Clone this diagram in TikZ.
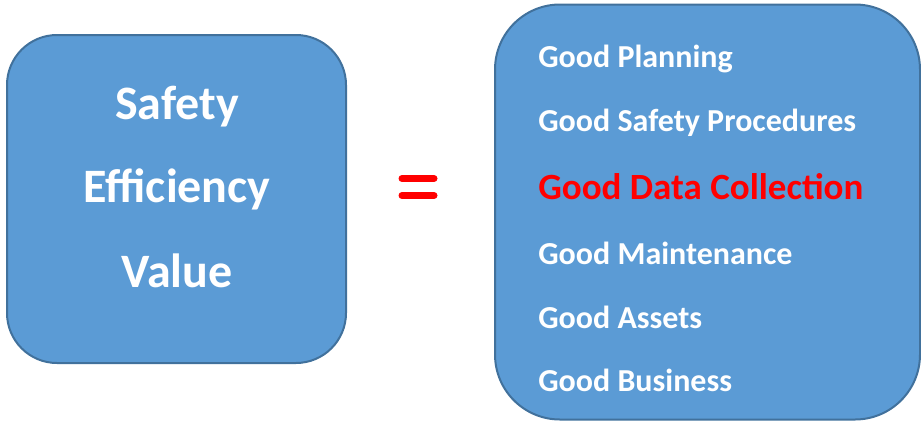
\documentclass[tikz,border=0pt]{standalone}
\usepackage{fontspec}
\setmainfont{Carlito}
\usetikzlibrary{positioning}
\definecolor{boxblue}{HTML}{5B9BD5}
\definecolor{boxline}{HTML}{41719C}

\begin{document}
\begin{tikzpicture}[x=1pt,y=-1pt,semithick]
  \tikzstyle{blockbox}=[rectangle,draw=boxline,fill=boxblue,line width=2pt,inner sep=0pt]
  \tikzstyle{bigtext}=[anchor=base,text=white,font=\bfseries\fontsize{48}{58}\selectfont,inner sep=0pt]
  \tikzstyle{itemtext}=[anchor=base west,text=white,font=\bfseries\fontsize{32}{38}\selectfont,inner sep=0pt]

  \useasboundingbox (0,0) rectangle (921,421);

  \node[blockbox,rounded corners=50pt,minimum width=339pt,minimum height=328pt] (lhs) at (176.5,199) {};
  \node[blockbox,rounded corners=65pt,minimum width=425pt,minimum height=415pt] (rhs) at (707.5,212) {};

  \node[bigtext] (safety) at (177,119) {Safety};
  \node[bigtext] (eff)    at (177,202) {Efficiency};
  \node[bigtext] (val)    at (177,287) {Value};

  % equals sign
  \draw[red,line width=7pt,line cap=round] (402,178.5) -- (434,178.5)
                                           (402,195.5) -- (434,195.5);

  \node[itemtext] (plan)  at (538,67)  {Good Planning};
  \node[itemtext] (proc)  at (538,131) {Good Safety Procedures};
  \node[itemtext,text=red,font=\bfseries\fontsize{37}{44}\selectfont] (data) at (538,199) {Good Data Collection};
  \node[itemtext] (maint) at (538,264) {Good Maintenance};
  \node[itemtext] (asset) at (538,328) {Good Assets};
  \node[itemtext] (busi)  at (538,391) {Good Business};
\end{tikzpicture}
\end{document}
